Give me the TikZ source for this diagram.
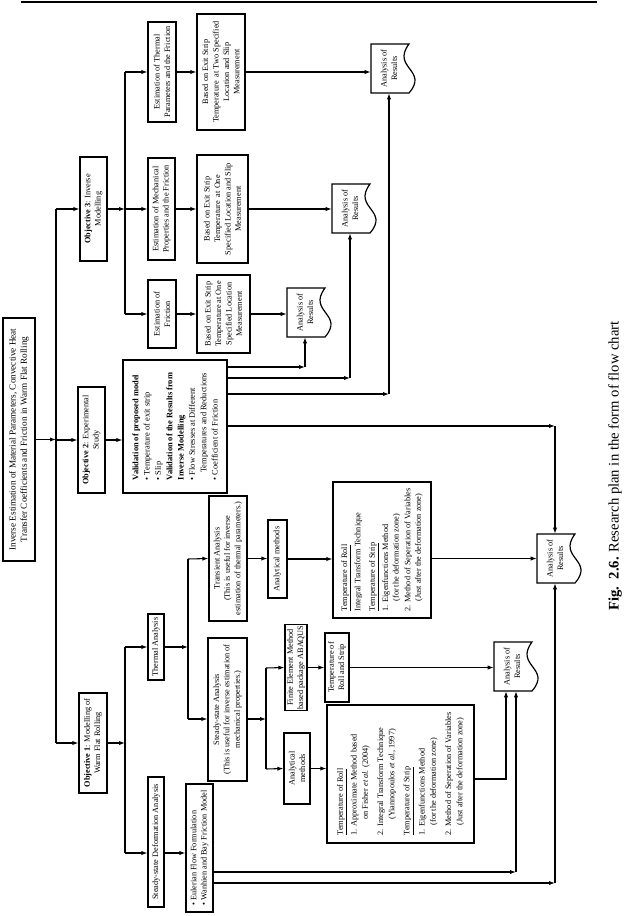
\documentclass[tikz,border=0pt]{standalone}
\usepackage{fontspec}
\setmainfont{Liberation Serif}
\usetikzlibrary{arrows.meta,calc}
\newcommand\anres[3]{%
 \begin{scope}[shift={(#2,#3)}]
  \draw[line width=0.9pt] (0,0) -- (38,0) .. controls (20,24) and (58,26) .. (38,49) -- (0,49) -- cycle;
  \node[rotate=90, minimum width=49*0.75pt, minimum height=36*0.75pt, inner sep=0pt, align=center] (#1) at (18,24.5) {Analysis of\\Results};
 \end{scope}}
\begin{document}
\begin{tikzpicture}[x=0.75pt,y=-0.75pt,
  every node/.style={font=\fontsize{6.2}{7.8}\selectfont},
  bx/.style 2 args={draw, line width=0.9pt, rotate=90, align=center, inner sep=1pt, minimum width=#1*0.75pt, minimum height=#2*0.75pt},
  ln/.style={line width=0.8pt},
  arr/.style={ln, -{Latex[length=4.5pt,width=3.2pt]}},
]
\useasboundingbox (0,0) rectangle (629,916);
\draw[line width=1.6pt] (21,2) -- (597,2);

% boxes
\node[bx={243}{32}, font=\fontsize{6.9}{8.6}\selectfont] (main) at (19,439.5) {Inverse Estimation of Material Parameters, Convective Heat\\Transfer Coefficients and Friction in Warm Flat Rolling};
\node[bx={104}{27}] (obj3) at (93.5,209) {\textbf{Objective 3}: Inverse\\Modelling};
\node[bx={106}{27}] (obj2) at (91.5,440) {\textbf{Objective 2}: Experimental\\Study};
\node[bx={100}{28}] (obj1) at (93,743) {\textbf{Objective 1}: Modelling of\\Warm Flat Rolling};

\node[bx={100}{28}] (estT) at (162,72) {Estimation of Thermal\\Parameters and the Friction};
\node[bx={116}{48}] (basedT) at (221,72) {Based on Exit Strip\\Temperature\ \ at Two Specified\\Location and Slip\\Measurement};
\node[bx={102}{27}] (estM) at (161.5,209) {Estimation of Mechanical\\Properties and the Friction};
\node[bx={108}{51}] (basedM) at (222.5,209) {Based on Exit Strip\\Temperature\ \ at One\\Specified Location and Slip\\Measurement};
\node[bx={68}{28}] (estF) at (162,314) {Estimation of\\Friction};
\node[bx={78}{53}] (basedF) at (223.5,314) {Based on Exit Strip\\Temperature at One\\Specified Location\\Measurement};

\node[bx={133}{104}, align=left, font=\fontsize{6.3}{8.5}\selectfont] (valid) at (175,426.5) {\textbf{Validation of proposed model}\\\textbullet\ Temperature of exit strip\\\textbullet\ Slip\\\textbf{Validation of the Results from}\\\textbf{Inverse Modelling}\\\textbullet\ Flow Stresses at Different\\\hspace*{0.9em}Temperatures and Reductions\\\textbullet\ Coefficient of Friction};

\node[bx={66}{16}] (thermal) at (156,647) {Thermal Analysis};
\node[bx={130}{16}] (ssd) at (156,842) {Steady-state Deformation Analysis};
\node[bx={128}{27}, align=left] (euler) at (199.5,848) {\textbullet\ Eulerian Flow Formulation\\\textbullet\ Wanhien and Bay Friction Model};
\node[bx={125}{38}] (transient) at (228,558.5) {Transient Analysis\\(This is useful for inverse\\estimation of thermal parameters.)};
\node[bx={143}{39}] (steady) at (227.5,709.5) {Steady-state Analysis\\(This is useful for inverse estimation of\\mechanical properties.)};
\node[bx={78}{19}] (anaT) at (277.5,559) {Analytical methods};
\node[bx={136}{98}, align=left, font=\fontsize{6.2}{7.9}\selectfont] (bigT) at (382,550) {\underline{Temperature of Roll}\\[2pt]Integral Transform Technique\\[3pt]\underline{Temperature of Strip}\\[2pt]1. Eigenfunctions Method\\\hspace*{1.2em}(for the deformation zone)\\[1pt]2. Method of Seperation of Variables\\\hspace*{1.2em}(Just after the deformation zone)};
\node[bx={81}{22}] (fem) at (296,667.5) {Finite Element Method\\based package ABAQUS};
\node[bx={69}{24}] (trs) at (337,667.5) {Temperature of\\Roll and Strip};
\node[bx={71}{26}] (anaS) at (297,768.5) {Analytical\\methods};
\node[bx={138}{147}, align=left, font=\fontsize{6.2}{8.4}\selectfont] (bigS) at (400.5,774) {\underline{Temperature of Roll}\\[2pt]1. Approximate Method based\\\hspace*{1.9em}on Fisher \textit{et al.} (2004)\\[3pt]2. Integral Transform Technique\\\hspace*{1.9em}(Yiannopoulos \textit{et al.}, 1997)\\[3pt]\underline{Temperature of Strip}\\[3pt]1. Eigenfunctions Method\\\hspace*{1.2em}(for the deformation zone)\\[3pt]2. Method of Seperation of Variables\\\hspace*{1.2em}(Just after the deformation zone)};

% analysis-of-results shapes
\anres{A}{371}{44}
\anres{B}{332}{184}
\anres{C}{287}{288}
\anres{D}{537}{534}
\anres{E}{494}{642}

% caption
\node[rotate=90, font=\fontsize{11}{13}\selectfont] (cap) at (615,466) {\textbf{Fig.\ \ 2.6.} Research plan in the form of flow chart};

% y-levels
\coordinate (yC) at (0,367);
\coordinate (yB) at (0,378);
\coordinate (yA) at (0,394);
\coordinate (yD) at (0,426);
\coordinate (yE1) at (0,779);
\coordinate (yE2) at (0,872);
\coordinate (yD2) at (0,883);

% main trunk
\coordinate (t1a) at (56,209);
\coordinate (t1b) at (56,743);
\draw[ln] (t1a) -- (t1b);
\draw[arr] (main.south) -- (main.south -| t1a);
\draw[arr] (t1a) -- (obj3.north);
\draw[arr] (obj2.north -| t1a) -- (obj2.north);
\draw[arr] (t1b) -- (obj1.north);

% objective 3
\coordinate (t3a) at (125,72);
\coordinate (t3b) at (125,314);
\draw[ln] (t3a) -- (t3b);
\draw[arr] (obj3.south) -- (obj3.south -| t3a);
\draw[arr] (t3a) -- (estT.north);
\draw[arr] (estM.north -| t3a) -- (estM.north);
\draw[arr] (t3b) -- (estF.north);
\draw[arr] (estT.south) -- (basedT.north);
\draw[arr] (estM.south) -- (basedM.north);
\draw[arr] (estF.south) -- (basedF.north);
\draw[arr] (basedT.south) -- (basedT.south -| A.north);
\draw[arr] (basedM.south) -- (basedM.south -| B.north);
\draw[arr] (basedF.south) -- (basedF.south -| C.north);

% objective 2
\draw[arr] (obj2.south) -- (obj2.south -| valid.north);
\draw[arr] (valid.south |- yC) -- (C.west |- yC);
\draw[arr] (C.west |- yC) -- (C.west);
\draw[arr] (valid.south |- yB) -- (B.west |- yB);
\draw[arr] (B.west |- yB) -- (B.west);
\draw[arr] (valid.south |- yA) -- (A.west |- yA);
\draw[arr] (A.west |- yA) -- (A.west);
\draw[arr] (valid.south |- yD) -- (D.east |- yD);
\draw[arr] (D.east |- yD) -- (D.east);

% objective 1
\coordinate (t2a) at (125,647);
\coordinate (t2b) at (125,853);
\draw[ln] (t2a) -- (t2b);
\draw[arr] (obj1.south) -- (obj1.south -| t2a);
\draw[arr] (t2a) -- (thermal.north);
\draw[arr] (t2b) -- (ssd.north |- t2b);
\draw[arr] (ssd.south |- t2b) -- (euler.north |- t2b);

\coordinate (t4a) at (188,559);
\coordinate (t4b) at (188,719);
\draw[ln] (t4a) -- (t4b);
\draw[arr] (thermal.south) -- (thermal.south -| t4a);
\draw[arr] (t4a) -- (transient.north);
\draw[arr] (t4b) -- (steady.north |- t4b);
\draw[arr] (transient.south) -- (transient.south -| anaT.north);
\draw[arr] (anaT.south) -- (anaT.south -| bigT.north);
\draw[arr] (D.north -| bigT.south) -- (D.north);

\coordinate (t5a) at (266,668);
\coordinate (t5b) at (266,769);
\draw[ln] (t5a) -- (t5b);
\draw[arr] (steady.south |- t4b) -- (t5a |- t4b);
\draw[arr] (t5a) -- (fem.north);
\draw[arr] (t5b) -- (anaS.north);
\draw[arr] (fem.south) -- (trs.north);
\draw[arr] (trs.south) -- (trs.south -| E.north);
\draw[arr] (anaS.south) -- (anaS.south -| bigS.north);

\coordinate (ex1) at ($(E.west)+(-6,0)$);
\coordinate (ex2) at ($(E.west)+(4,0)$);
\draw[arr] (bigS.south |- yE1) -| (ex1);
\draw[arr] (euler.south |- yE2) -- (ex2 |- yE2);
\draw[arr] (ex2 |- yE2) -- (ex2);
\draw[arr] (euler.south |- yD2) -- (D.west |- yD2);
\draw[arr] (D.west |- yD2) -- (D.west);
\end{tikzpicture}
\end{document}
